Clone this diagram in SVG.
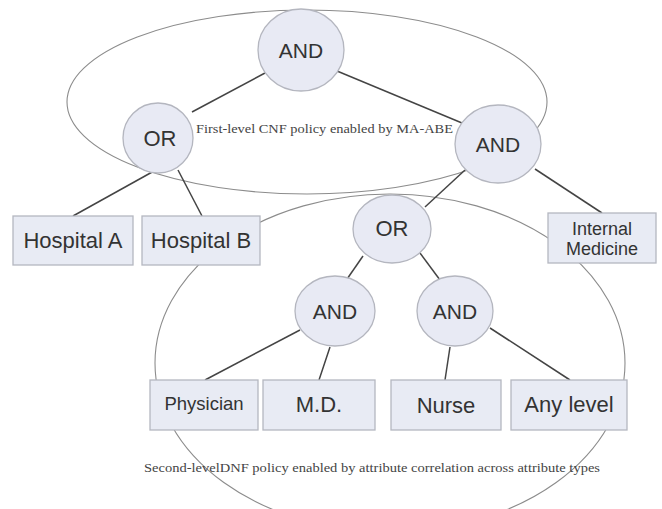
<svg xmlns="http://www.w3.org/2000/svg" width="662" height="509" viewBox="0 0 662 509">
<style>
.bg{fill:#ffffff}
.region{fill:none;stroke:#8c8c8c;stroke-width:1.1}
.gate ellipse{fill:#e8eaf4;stroke:#b4b6bf;stroke-width:1.3}
.attr rect{fill:#e8ebf4;stroke:#b4b7c0;stroke-width:1.3}
.lbl{font-family:"Liberation Sans",Arial,sans-serif;fill:#333;text-anchor:middle}
.note{font-family:"Liberation Serif","Times New Roman",serif;fill:#444;font-size:13.5px}
#edges line{stroke:#444;stroke-width:1.5}
</style>
<rect class="bg" x="0" y="0" width="662" height="509"/>
<g id="regions">
<ellipse class="region" cx="307" cy="102" rx="240" ry="92"/>
<ellipse class="region" cx="390" cy="363" rx="235" ry="169"/>
</g>
<g id="edges">
<line x1="265" y1="73" x2="192" y2="112"/>
<line x1="337" y1="71" x2="462" y2="123"/>
<line x1="154" y1="171" x2="73" y2="216"/>
<line x1="178" y1="170" x2="202" y2="216"/>
<line x1="465" y1="170" x2="425" y2="207"/>
<line x1="535" y1="169" x2="602" y2="213"/>
<line x1="363" y1="256" x2="345" y2="282"/>
<line x1="420" y1="253" x2="440" y2="280"/>
<line x1="300" y1="330" x2="205" y2="380"/>
<line x1="330" y1="347" x2="319" y2="380"/>
<line x1="450" y1="347" x2="445" y2="380"/>
<line x1="490" y1="328" x2="570" y2="380"/>
</g>
<g id="and-root" class="gate"><ellipse cx="301" cy="50" rx="43" ry="41"/><text class="lbl" x="301" y="58" font-size="21">AND</text></g>
<g id="or-hospital" class="gate"><ellipse cx="158" cy="138" rx="35" ry="35"/><text class="lbl" x="160" y="146" font-size="22">OR</text></g>
<g id="and-dept" class="gate"><ellipse cx="498" cy="144" rx="43" ry="39"/><text class="lbl" x="498" y="152" font-size="21">AND</text></g>
<g id="or-role" class="gate"><ellipse cx="392" cy="229" rx="39" ry="34"/><text class="lbl" x="392" y="236" font-size="22">OR</text></g>
<g id="and-physician" class="gate"><ellipse cx="335" cy="311" rx="40" ry="35"/><text class="lbl" x="335" y="319" font-size="21">AND</text></g>
<g id="and-nurse" class="gate"><ellipse cx="455" cy="311" rx="38" ry="35"/><text class="lbl" x="455" y="319" font-size="21">AND</text></g>
<g id="hospital-a" class="attr"><rect x="13" y="216" width="120" height="49"/><text class="lbl" x="73" y="248" font-size="22">Hospital A</text></g>
<g id="hospital-b" class="attr"><rect x="142" y="216" width="118" height="49"/><text class="lbl" x="201" y="248" font-size="22">Hospital B</text></g>
<g id="internal-medicine" class="attr"><rect x="548" y="213" width="108" height="50"/><text class="lbl" x="602" y="235" font-size="18">Internal</text><text class="lbl" x="602" y="255" font-size="18">Medicine</text></g>
<g id="physician" class="attr"><rect x="150" y="380" width="108" height="50"/><text class="lbl" x="204" y="410" font-size="18.5">Physician</text></g>
<g id="md" class="attr"><rect x="263" y="380" width="112" height="50"/><text class="lbl" x="319" y="412" font-size="22">M.D.</text></g>
<g id="nurse" class="attr"><rect x="391" y="380" width="110" height="50"/><text class="lbl" x="446" y="413" font-size="22">Nurse</text></g>
<g id="any-level" class="attr"><rect x="511" y="380" width="116" height="50"/><text class="lbl" x="569" y="412" font-size="22">Any level</text></g>
<text class="note" x="196" y="133" textLength="257" lengthAdjust="spacingAndGlyphs">First-level CNF policy enabled by MA-ABE</text>
<text class="note" x="144" y="472" textLength="456" lengthAdjust="spacingAndGlyphs">Second-levelDNF policy enabled by attribute correlation across attribute types</text>
</svg>
